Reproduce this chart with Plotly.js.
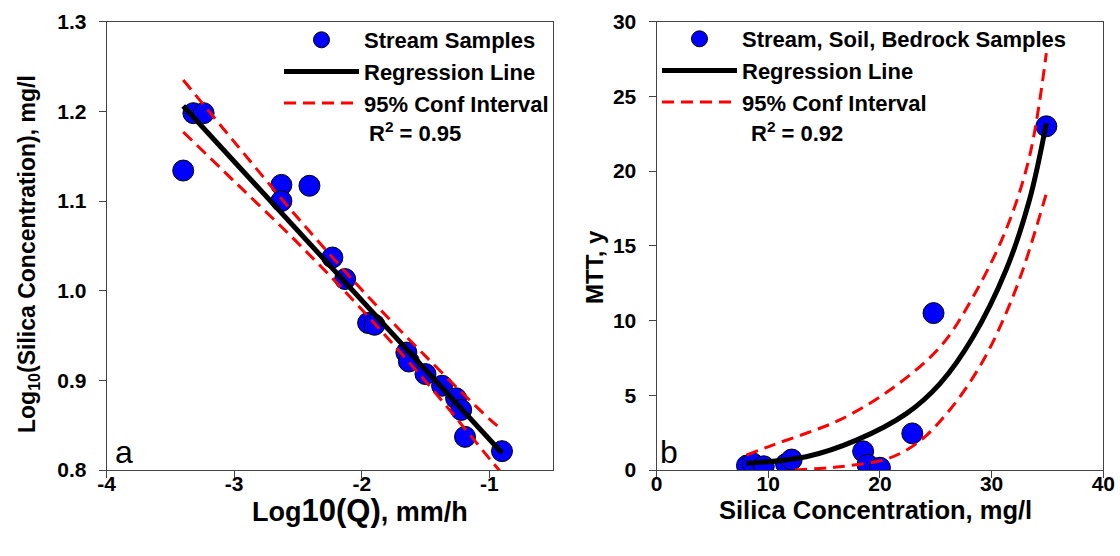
<!DOCTYPE html>
<html>
<head>
<meta charset="utf-8">
<script src="https://cdn.plot.ly/plotly-3.0.1.min.js"></script>
<style>
  html, body { margin: 0; padding: 0; background: #fff; }
  #chart { width: 1120px; height: 556px; }
</style>
</head>
<body>
<div id="chart"></div>
<script>
// Panel a: stream samples, log10 discharge vs log10 silica concentration
const streamLogQ = [-3.40, -3.32, -3.24, -2.63, -2.63, -2.41, -2.23, -2.13, -1.95, -1.90,
                    -1.65, -1.63, -1.50, -1.37, -1.26, -1.22, -1.19, -0.90];
const streamLogSi = [1.134, 1.198, 1.198, 1.118, 1.100, 1.117, 1.037, 1.013, 0.964, 0.962,
                     0.931, 0.921, 0.907, 0.894, 0.880, 0.867, 0.837, 0.821];
const fitAX = [-3.40, -0.90];
const fitAY = [1.206, 0.819];
const ciAX = [-3.40, -3.00, -2.50, -2.00, -1.50, -1.00, -0.90];
const ciAUpper = [1.235, 1.166, 1.081, 1.001, 0.927, 0.857, 0.845];
const ciALower = [1.177, 1.122, 1.053, 0.979, 0.899, 0.813, 0.796];
const r2A = 0.95;
const tickValsA = [-4, -3, -2, -1];
const tickTextA = ['-4', '-3', '-2', '-1'];

// Panel b: stream, soil and bedrock samples, silica concentration vs MTT
const sampleSi = [8.1, 8.6, 9.6, 11.6, 12.1, 18.5, 18.9, 20.0, 22.9, 24.8, 34.9];
const sampleMTT = [0.30, 0.45, 0.25, 0.40, 0.70, 1.25, 0.35, 0.15, 2.45, 10.5, 23.0];
const fitBX = [8.05, 13.4, 17.9, 22.4, 25.4, 28.35, 31.3, 33.4, 34.9];
const fitBY = [0.45, 0.89, 2.0, 3.79, 5.80, 8.92, 13.4, 18.1, 23.2];
const ciBUpperX = [8.05, 10.4, 13.4, 16.4, 20.9, 25.4, 28.35, 31.3, 33.4, 34.9];
const ciBUpperY = [1.0, 1.67, 2.46, 3.35, 5.35, 8.25, 11.6, 16.1, 21.0, 27.9];
const ciBLowerX = [12.4, 16.4, 20.3, 22.4, 24.2, 26.0, 27.8, 29.6, 31.3, 32.8, 34.9];
const ciBLowerY = [0.0, 0.22, 0.67, 1.34, 2.34, 3.79, 5.58, 7.81, 10.5, 13.4, 18.5];
const r2B = 0.92;

const W = 1120, H = 556;
const px = v => v / W;
const py = v => 1 - v / H;

const FONT = 'Arial, "Liberation Sans", sans-serif';
const boldFont = size => ({ family: FONT, size: size, color: '#000', weight: 'bold' });

const markerStyle = { color: '#0000ff', size: 21, line: { color: '#000', width: 1 } };
const fitLine = { color: '#000', width: 5 };
const ciLine = { color: '#ff0000', width: 3, dash: '12px,7px' };

const traces = [
  { x: streamLogQ, y: streamLogSi, type: 'scatter', mode: 'markers', name: 'Stream Samples',
    marker: markerStyle, xaxis: 'x', yaxis: 'y', legend: 'legend' },
  { x: fitAX, y: fitAY, type: 'scatter', mode: 'lines', name: 'Regression Line',
    line: fitLine, xaxis: 'x', yaxis: 'y', legend: 'legend' },
  { x: ciAX, y: ciAUpper, type: 'scatter', mode: 'lines', name: '95% Conf Interval',
    line: Object.assign({ shape: 'spline' }, ciLine), xaxis: 'x', yaxis: 'y', legend: 'legend',
    legendgroup: 'ciA' },
  { x: ciAX, y: ciALower, type: 'scatter', mode: 'lines', name: '95% Conf Interval',
    line: Object.assign({ shape: 'spline' }, ciLine), xaxis: 'x', yaxis: 'y', legend: 'legend',
    legendgroup: 'ciA', showlegend: false },

  { x: sampleSi, y: sampleMTT, type: 'scatter', mode: 'markers', name: 'Stream, Soil, Bedrock Samples',
    marker: markerStyle, xaxis: 'x2', yaxis: 'y2', legend: 'legend2' },
  { x: fitBX, y: fitBY, type: 'scatter', mode: 'lines', name: 'Regression Line',
    line: Object.assign({ shape: 'spline' }, fitLine), xaxis: 'x2', yaxis: 'y2', legend: 'legend2' },
  { x: ciBUpperX, y: ciBUpperY, type: 'scatter', mode: 'lines', name: '95% Conf Interval',
    line: Object.assign({ shape: 'spline' }, ciLine), xaxis: 'x2', yaxis: 'y2', legend: 'legend2',
    legendgroup: 'ciB' },
  { x: ciBLowerX, y: ciBLowerY, type: 'scatter', mode: 'lines', name: '95% Conf Interval',
    line: Object.assign({ shape: 'spline' }, ciLine), xaxis: 'x2', yaxis: 'y2', legend: 'legend2',
    legendgroup: 'ciB', showlegend: false }
];

const axisBase = {
  showline: true, linecolor: '#444', linewidth: 1, mirror: true,
  ticks: 'outside', ticklen: 7, tickcolor: '#444', tickwidth: 1,
  showgrid: false, zeroline: false,
  tickfont: boldFont(21)
};

const legendBase = {
  font: boldFont(22), bgcolor: 'rgba(0,0,0,0)', borderwidth: 0,
  xanchor: 'left', yanchor: 'top', itemwidth: 75, tracegroupgap: 0
};

const layout = {
  width: W, height: H,
  margin: { l: 0, r: 0, t: 0, b: 0 },
  paper_bgcolor: '#fff', plot_bgcolor: '#fff',
  font: { family: FONT },
  xaxis: Object.assign({}, axisBase, {
    domain: [px(106.7), px(553)], range: [-4, -0.5], tickvals: tickValsA, ticktext: tickTextA,
    anchor: 'y', ticklabelstandoff: -12
  }),
  yaxis: Object.assign({}, axisBase, {
    domain: [py(470), py(21.7)], range: [0.8, 1.3], dtick: 0.1, tickformat: '.1f', anchor: 'x',
    ticklabelstandoff: 8
  }),
  xaxis2: Object.assign({}, axisBase, {
    domain: [px(656.5), px(1103.3)], range: [0, 40], dtick: 10, anchor: 'y2',
    ticklabelstandoff: -12
  }),
  yaxis2: Object.assign({}, axisBase, {
    domain: [py(470), py(21.7)], range: [0, 30], dtick: 5, anchor: 'x2',
    ticklabelstandoff: 8
  }),
  legend: Object.assign({}, legendBase, { x: px(279), y: py(19) }),
  legend2: Object.assign({}, legendBase, { x: px(657), y: py(18) }),
  annotations: [
    { text: 'R<sup>2</sup> = ' + r2A.toFixed(2), xref: 'paper', yref: 'paper',
      x: px(367), y: py(132), xanchor: 'left', yanchor: 'middle', showarrow: false, font: boldFont(22) },
    { text: 'R<sup>2</sup> = ' + r2B.toFixed(2), xref: 'paper', yref: 'paper',
      x: px(749), y: py(132), xanchor: 'left', yanchor: 'middle', showarrow: false, font: boldFont(22) },
    { text: 'a', xref: 'paper', yref: 'paper', x: px(124), y: py(452), xanchor: 'center', yanchor: 'middle',
      showarrow: false, font: { family: FONT, size: 32, color: '#000' } },
    { text: 'b', xref: 'paper', yref: 'paper', x: px(669), y: py(452), xanchor: 'center', yanchor: 'middle',
      showarrow: false, font: { family: FONT, size: 32, color: '#000' } },
    { text: 'Log<span style="font-size:31px">10(Q)</span>, mm/h', xref: 'paper', yref: 'paper',
      x: px(360), y: py(511), xanchor: 'center', yanchor: 'middle', showarrow: false, font: boldFont(27) },
    { text: 'Silica Concentration, mg/l', xref: 'paper', yref: 'paper',
      x: px(875), y: py(510), xanchor: 'center', yanchor: 'middle', showarrow: false, font: boldFont(25.5) },
    { text: 'Log<sub>10</sub>(Silica Concentration), mg/l', xref: 'paper', yref: 'paper', textangle: -90,
      x: px(28), y: py(254), xanchor: 'center', yanchor: 'middle', showarrow: false, font: boldFont(23) },
    { text: 'MTT, y', xref: 'paper', yref: 'paper', textangle: -90,
      x: px(594), y: py(267), xanchor: 'center', yanchor: 'middle', showarrow: false, font: boldFont(24) }
  ]
};

Plotly.newPlot('chart', traces, layout, { staticPlot: true, displayModeBar: false });
</script>
</body>
</html>
